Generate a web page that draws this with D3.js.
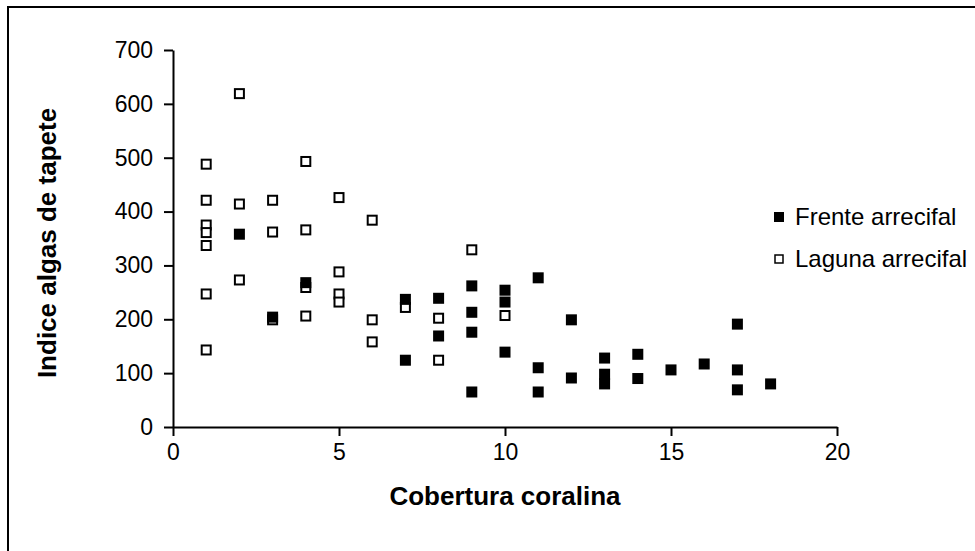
<!DOCTYPE html>
<html>
<head>
<meta charset="utf-8">
<script src="https://cdn.jsdelivr.net/npm/d3@7"></script>
<style>
  body { margin: 0; background: #fff; }
  text { font-family: "Liberation Sans", Arial, sans-serif; }
</style>
</head>
<body>
<script>
// Frente arrecifal (filled squares)
const frenteX = [2, 3, 4, 7, 7, 8, 8, 9, 9, 9, 9, 10, 10, 10, 11, 11, 11, 12, 12, 13, 13, 13, 14, 14, 15, 16, 17, 17, 17, 18];
const frenteY = [358, 204, 268, 237, 124, 239, 169, 262, 213, 176, 65, 254, 232, 139, 277, 110, 65, 199, 91, 128, 98, 80, 135, 90, 106, 117, 191, 106, 69, 80];

// Laguna arrecifal (open squares)
const lagunaX = [1, 1, 1, 1, 1, 1, 1, 2, 2, 2, 3, 3, 3, 4, 4, 4, 4, 5, 5, 5, 5, 6, 6, 6, 7, 8, 8, 9, 10];
const lagunaY = [488, 421, 375, 361, 337, 247, 143, 619, 414, 273, 421, 362, 199, 493, 366, 259, 206, 426, 288, 247, 232, 384, 199, 158, 222, 202, 124, 329, 207];

const xTicks = [0, 5, 10, 15, 20];
const yTicks = [0, 100, 200, 300, 400, 500, 600, 700];
const seriesNames = ["Frente arrecifal", "Laguna arrecifal"];

const width = 975;
const height = 551;

const svg = d3.select("body")
  .append("svg")
  .attr("width", width)
  .attr("height", height);

// chart frame (cropped on right and bottom)
svg.append("rect")
  .attr("x", 8)
  .attr("y", 7)
  .attr("width", 1200)
  .attr("height", 1200)
  .attr("fill", "none")
  .attr("stroke", "#000")
  .attr("stroke-width", 2);

const x = d3.scaleLinear().domain([0, 20]).range([173, 837]);
const y = d3.scaleLinear().domain([0, 700]).range([427, 50]);

const xAxis = svg.append("g")
  .attr("transform", `translate(0,${y(0)})`)
  .call(d3.axisBottom(x).tickValues(xTicks).tickSize(9).tickSizeOuter(0).tickPadding(8));

const yAxis = svg.append("g")
  .attr("transform", `translate(${x(0)},0)`)
  .call(d3.axisLeft(y).tickValues(yTicks).tickSize(9).tickSizeOuter(0).tickPadding(11));

[xAxis, yAxis].forEach(ax => {
  ax.select(".domain").attr("stroke", "#000").attr("stroke-width", 2);
  ax.selectAll(".tick line").attr("stroke", "#000").attr("stroke-width", 2);
  ax.selectAll(".tick text")
    .attr("fill", "#000")
    .style("font-family", "'Liberation Sans', Arial, sans-serif")
    .style("font-size", "23px");
});

const frente = frenteX.map((d, i) => ({ x: d, y: frenteY[i] }));
const laguna = lagunaX.map((d, i) => ({ x: d, y: lagunaY[i] }));

const sq = 11;
svg.append("g")
  .selectAll("rect")
  .data(laguna)
  .join("rect")
  .attr("x", d => x(d.x) - (sq - 2) / 2)
  .attr("y", d => y(d.y) - (sq - 2) / 2)
  .attr("width", sq - 2)
  .attr("height", sq - 2)
  .attr("fill", "#fff")
  .attr("stroke", "#000")
  .attr("stroke-width", 2);

svg.append("g")
  .selectAll("rect")
  .data(frente)
  .join("rect")
  .attr("x", d => x(d.x) - sq / 2)
  .attr("y", d => y(d.y) - sq / 2)
  .attr("width", sq)
  .attr("height", sq)
  .attr("fill", "#000");

// axis titles
svg.append("text")
  .attr("x", (x(0) + x(20)) / 2)
  .attr("y", 505)
  .attr("text-anchor", "middle")
  .attr("font-weight", "bold")
  .attr("font-size", 26)
  .text("Cobertura coralina");

svg.append("text")
  .attr("transform", `translate(56,243) rotate(-90)`)
  .attr("text-anchor", "middle")
  .attr("font-weight", "bold")
  .attr("font-size", 26)
  .text("Indice algas de tapete");

// legend
const legend = svg.append("g");
const legendY = [217, 259];
seriesNames.forEach((name, i) => {
  const g = legend.append("g").attr("transform", `translate(779,${legendY[i]})`);
  if (i === 0) {
    g.append("rect").attr("x", -5).attr("y", -5).attr("width", 10).attr("height", 10).attr("fill", "#000");
  } else {
    g.append("rect").attr("x", -4).attr("y", -4).attr("width", 8).attr("height", 8)
      .attr("fill", "#fff").attr("stroke", "#000").attr("stroke-width", 1.5);
  }
  g.append("text")
    .attr("x", 16)
    .attr("dy", "0.35em")
    .attr("font-size", 24)
    .text(name);
});
</script>
</body>
</html>
